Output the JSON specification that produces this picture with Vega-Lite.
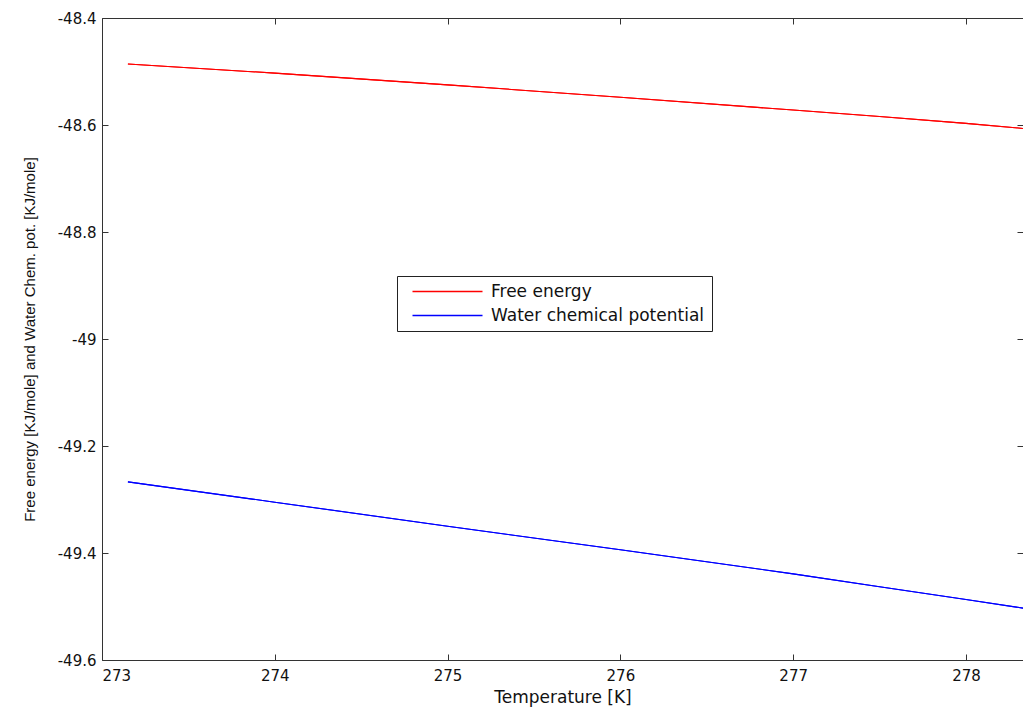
{
  "$schema": "https://vega.github.io/schema/vega-lite/v6.json",
  "autosize": {"type": "none"},
  "padding": {"left": 102, "top": 18, "right": 0, "bottom": 51},
  "width": 921,
  "height": 642,
  "background": "#ffffff",
  "config": {
    "view": {"stroke": null},
    "axis": {
      "grid": false,
      "domainColor": "#333333",
      "tickColor": "#333333",
      "tickSize": -6,
      "labelFont": "DejaVu Sans",
      "labelFontSize": 15,
      "labelColor": "#111111",
      "titleFont": "DejaVu Sans",
      "titleFontSize": 17,
      "titleFontWeight": "normal",
      "titleColor": "#111111"
    }
  },
  "data": {
    "values": [
      {"T": 273.15, "v": -48.486, "series": "Free energy"},
      {"T": 274.0, "v": -48.503, "series": "Free energy"},
      {"T": 275.0, "v": -48.525, "series": "Free energy"},
      {"T": 276.0, "v": -48.548, "series": "Free energy"},
      {"T": 277.0, "v": -48.572, "series": "Free energy"},
      {"T": 277.5, "v": -48.584, "series": "Free energy"},
      {"T": 278.0, "v": -48.597, "series": "Free energy"},
      {"T": 278.35, "v": -48.607, "series": "Free energy"},
      {"T": 273.15, "v": -49.267, "series": "Water chemical potential"},
      {"T": 274.0, "v": -49.305, "series": "Water chemical potential"},
      {"T": 275.0, "v": -49.35, "series": "Water chemical potential"},
      {"T": 276.0, "v": -49.394, "series": "Water chemical potential"},
      {"T": 277.0, "v": -49.439, "series": "Water chemical potential"},
      {"T": 277.5, "v": -49.463, "series": "Water chemical potential"},
      {"T": 278.0, "v": -49.487, "series": "Water chemical potential"},
      {"T": 278.35, "v": -49.504, "series": "Water chemical potential"}
    ]
  },
  "layer": [
    {
      "mark": {"type": "line", "strokeWidth": 1.1, "clip": true},
      "encoding": {
        "x": {
          "field": "T", "type": "quantitative",
          "scale": {"domain": [273, 278.33], "nice": false, "zero": false},
          "axis": {
            "orient": "bottom",
            "title": "Temperature [K]",
            "values": [273, 274, 275, 276, 277, 278],
            "labelExpr": "'' + datum.value",
            "labelPadding": 14,
            "titlePadding": 6
          }
        },
        "y": {
          "field": "v", "type": "quantitative",
          "scale": {"domain": [-49.6, -48.4], "nice": false, "zero": false},
          "axis": {
            "orient": "left",
            "title": "Free energy [KJ/mole] and Water Chem. pot. [KJ/mole]",
            "titleFont": "Liberation Sans",
            "titleFontSize": 15,
            "values": [-49.6, -49.4, -49.2, -49, -48.8, -48.6, -48.4],
            "labelExpr": "'' + datum.value",
            "labelPadding": 12,
            "titlePadding": 20
          }
        },
        "color": {
          "field": "series", "type": "nominal",
          "scale": {"domain": ["Free energy", "Water chemical potential"], "range": ["#ff0000", "#0000ff"]},
          "legend": {
            "title": null,
            "orient": "none",
            "legendX": 295,
            "legendY": 258,
            "symbolType": "M0,0H10",
            "symbolSize": 196,
            "symbolStrokeWidth": 1.5,
            "labelOffset": 70,
            "labelFont": "DejaVu Sans",
            "labelFontSize": 17,
            "labelColor": "#111111",
            "labelLimit": 400,
            "rowPadding": 6,
            "padding": 7,
            "strokeColor": "#222222",
            "fillColor": "#ffffff"
          }
        }
      }
    },
    {
      "mark": {"type": "line", "strokeWidth": 1.1, "clip": true},
      "encoding": {
        "x": {
          "field": "T", "type": "quantitative",
          "axis": {"orient": "top", "title": null, "labels": false, "values": [273, 274, 275, 276, 277, 278]}
        },
        "y": {
          "field": "v", "type": "quantitative",
          "axis": {"orient": "right", "title": null, "labels": false, "values": [-49.6, -49.4, -49.2, -49, -48.8, -48.6, -48.4]}
        },
        "color": {"field": "series", "type": "nominal", "legend": null}
      }
    }
  ],
  "resolve": {"axis": {"x": "independent", "y": "independent"}}
}
